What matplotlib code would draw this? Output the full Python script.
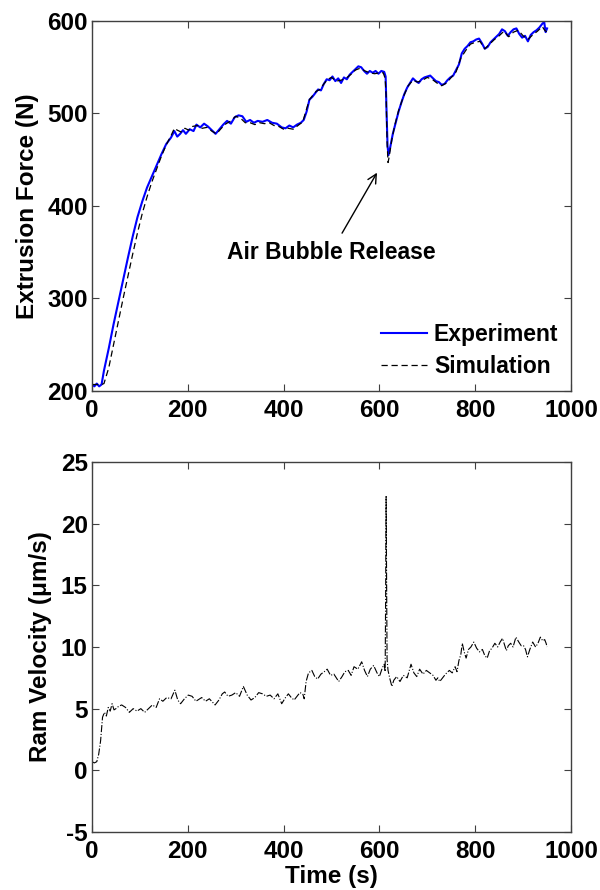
import numpy as np
import matplotlib
matplotlib.use("Agg")
import matplotlib.pyplot as plt

# =========================
# DATA
# =========================
exp_time = [
    0, 5, 10, 15, 20, 25, 35, 45, 55, 65,
    75, 85, 95, 105, 115, 125, 135, 145, 155, 165,
    172, 178, 184, 190, 196, 204, 212, 218, 226, 234,
    242, 250, 258, 266, 274, 282, 290, 298, 306, 314,
    322, 330, 338, 346, 356, 366, 376, 386, 396, 404,
    412, 420, 428, 436, 442, 448, 454, 460, 466, 472,
    478, 484, 490, 496, 502, 508, 514, 520, 526, 532,
    538, 544, 550, 556, 562, 568, 574, 580, 586, 592,
    598, 604, 610, 613, 615, 617, 619, 622, 628, 634,
    640, 646, 652, 658, 664, 670, 676, 682, 688, 694,
    700, 706, 712, 718, 724, 730, 736, 742, 748, 754,
    760, 766, 772, 778, 784, 790, 796, 802, 808, 814,
    820, 826, 832, 838, 844, 850, 856, 862, 868, 874,
    880, 886, 892, 898, 904, 910, 916, 922, 928, 934,
    940, 944, 947, 950,
]
exp_force = [
    207, 205, 208, 205, 207, 222, 246, 272, 296, 320,
    344, 367, 388, 405, 420, 432, 444, 456, 467, 474,
    481, 475, 478, 482, 478, 483, 481, 488, 485, 489,
    486, 482, 478, 483, 488, 492, 489, 496, 498, 497,
    491, 493, 490, 492, 491, 493, 490, 489, 485, 484,
    487, 485, 488, 490, 493, 502, 515, 518, 522, 526,
    525, 532, 537, 536, 540, 535, 538, 533, 539, 537,
    542, 545, 548, 551, 550, 546, 543, 546, 544, 546,
    543, 546, 545, 540, 500, 465, 455, 462, 478, 490,
    502, 512, 521, 528, 533, 538, 535, 533, 537, 539,
    540, 541, 538, 535, 534, 531, 532, 536, 539, 541,
    547, 553, 565, 570, 573, 577, 578, 580, 581, 576,
    570, 572, 577, 580, 583, 586, 591, 589, 584, 588,
    591, 592, 586, 582, 584, 578, 585, 588, 590, 593,
    597, 599, 588, 592,
]

sim_time = [
    0, 10, 20, 25, 35, 45, 55, 65, 75, 85,
    95, 105, 115, 125, 135, 145, 155, 165, 172, 178,
    186, 194, 202, 210, 220, 230, 240, 250, 260, 270,
    280, 290, 300, 310, 320, 330, 340, 350, 360, 370,
    380, 390, 400, 410, 420, 430, 440, 448, 454, 460,
    468, 476, 484, 492, 500, 510, 520, 530, 540, 550,
    560, 570, 580, 590, 600, 608, 612, 614, 616, 618,
    620, 626, 632, 640, 650, 660, 670, 680, 690, 700,
    710, 720, 730, 740, 750, 760, 770, 780, 790, 800,
    810, 820, 830, 840, 850, 860, 870, 880, 890, 900,
    910, 920, 930, 940, 945, 950,
]
sim_force = [
    207, 207, 207, 208, 225, 250, 275, 300, 324, 348,
    371, 392, 410, 426, 440, 454, 466, 476, 484, 482,
    480, 484, 482, 486, 487, 484, 485, 481, 478, 484,
    489, 492, 497, 495, 490, 490, 488, 490, 489, 490,
    487, 486, 483, 484, 483, 487, 491, 505, 515, 519,
    524, 526, 532, 537, 539, 535, 536, 538, 542, 547,
    549, 546, 544, 543, 544, 544, 538, 520, 470, 447,
    452, 472, 487, 503, 518, 530, 536, 534, 536, 539,
    537, 533, 530, 533, 539, 545, 560, 568, 575, 577,
    578, 570, 575, 580, 584, 589, 583, 588, 590, 584,
    580, 585, 589, 594, 590, 588,
]

vel_time = [
    0, 5, 10, 14, 18, 22, 26, 30, 34, 38,
    42, 46, 50, 56, 62, 70, 78, 86, 94, 102,
    110, 118, 126, 134, 141, 148, 156, 165, 173, 179,
    185, 193, 201, 209, 217, 229, 237, 245, 257, 265,
    272, 277, 284, 292, 300, 308, 316, 324, 332, 340,
    348, 356, 364, 372, 380, 388, 396, 404, 410, 416,
    422, 428, 434, 440, 443, 447, 452, 459, 465, 471,
    478, 485, 491, 498, 505, 515, 522, 528, 535, 541,
    547, 555, 563, 569, 575, 581, 588, 595, 600, 606,
    610, 612, 613, 614, 615, 616, 618, 622, 626, 630,
    636, 643, 650, 658, 666, 672, 678, 684, 691, 698,
    705, 712, 718, 722, 726, 730, 738, 746, 752, 758,
    762, 766, 770, 773, 777, 781, 786, 791, 797, 803,
    809, 815, 820, 825, 830, 835, 841, 847, 852, 857,
    861, 865, 869, 874, 879, 885, 891, 896, 901, 905,
    909, 914, 920, 926, 931, 936, 941, 945, 948, 950,
]
vel_value = [
    0.7, 0.6, 0.7, 1.3, 2.4, 4.3, 4.7, 4.4, 5.1, 4.8,
    5.4, 4.9, 5.0, 5.2, 5.3, 5.1, 4.7, 5.0, 4.8, 5.0,
    4.7, 5.0, 5.3, 5.1, 5.8, 5.6, 5.9, 5.8, 6.5, 5.7,
    5.4, 5.8, 6.1, 6.0, 5.6, 5.9, 5.6, 5.8, 5.3, 5.7,
    6.2, 6.35, 6.0, 6.1, 6.3, 6.0, 6.8, 6.1, 5.7, 5.9,
    6.3, 6.2, 6.0, 6.1, 5.8, 6.2, 5.4, 5.9, 6.2, 5.9,
    5.7, 6.0, 6.3, 6.2, 5.8, 7.2, 7.9, 8.1, 7.6, 7.4,
    7.8, 8.0, 8.2, 7.7, 7.8, 7.2, 7.6, 8.0, 8.1, 7.7,
    8.4, 8.2, 8.8, 8.1, 7.6, 8.2, 8.5, 7.9, 7.6, 8.3,
    8.6, 8.0, 14.0, 22.2, 15.0, 9.0, 8.1, 7.4, 6.8, 7.3,
    7.6, 7.2, 7.7, 7.5, 8.6, 7.9, 7.6, 8.2, 7.8, 8.1,
    7.9, 7.7, 7.3, 7.5, 7.2, 7.4, 7.8, 8.1, 7.9, 8.4,
    8.0, 8.9, 9.4, 10.3, 9.6, 9.1, 9.8, 10.0, 10.4, 9.9,
    9.6, 9.8, 9.3, 9.1, 9.7, 9.9, 10.3, 10.0, 10.4, 10.7,
    10.2, 9.7, 10.1, 10.3, 10.0, 10.8, 10.4, 10.1, 10.1, 9.8,
    9.2, 9.8, 10.4, 10.0, 10.3, 10.8, 10.5, 10.6, 10.3, 10.0,
]

force_ticks = [200, 300, 400, 500, 600]
vel_ticks = [-5, 0, 5, 10, 15, 20, 25]
time_ticks = [0, 200, 400, 600, 800, 1000]

# =========================
# STYLE
# =========================
plt.rcParams["font.family"] = ["Liberation Sans", "DejaVu Sans"]
plt.rcParams["font.weight"] = "bold"
plt.rcParams["axes.labelweight"] = "bold"
plt.rcParams["font.size"] = 17.5
plt.rcParams["axes.edgecolor"] = "#404040"
plt.rcParams["axes.unicode_minus"] = False


def style_axes(ax):
    ax.tick_params(direction="in", top=True, right=True, length=5,
                   width=0.8, color="#404040", labelsize=17.5)
    ax.tick_params(axis="x", pad=6)
    ax.tick_params(axis="y", pad=3)
    for sp in ax.spines.values():
        sp.set_linewidth(1.0)


fig = plt.figure(figsize=(6, 8.9), dpi=100)
ax1 = fig.add_axes([0.1533, 0.5607, 0.7984, 0.4157])
ax2 = fig.add_axes([0.1533, 0.0652, 0.7984, 0.4157])

# ---- Extrusion force ----
ax1.plot(exp_time, exp_force, color="#0000ff", lw=1.5, label="Experiment")
ax1.plot(sim_time, sim_force, color="black", lw=0.9, ls=(0, (5, 3)),
         label="Simulation")
ax1.set_xlim(0, 1000)
ax1.set_ylim(200, 600)
ax1.set_xticks(time_ticks)
ax1.set_yticks(force_ticks)
ax1.set_ylabel("Extrusion Force (N)", labelpad=6)
style_axes(ax1)

ax1.annotate("Air Bubble Release", xy=(595, 436), xytext=(499, 350),
             ha="center", va="center", fontsize=16.5, fontweight="bold",
             arrowprops=dict(arrowstyle="->", color="black", lw=1.0,
                             shrinkA=4, shrinkB=0, mutation_scale=16))

leg = ax1.legend(loc="lower right", frameon=False, handlelength=2.0,
                 handletextpad=0.3, borderaxespad=0.15, labelspacing=0.4,
                 fontsize=16.5)

# ---- Ram velocity ----
ax2.plot(vel_time, vel_value, color="black", lw=0.8, ls="-.")
ax2.set_xlim(0, 1000)
ax2.set_ylim(-5, 25)
ax2.set_xticks(time_ticks)
ax2.set_yticks(vel_ticks)
ax2.set_xlabel("Time (s)", labelpad=1)
ax2.set_ylabel("Ram Velocity (\u03bcm/s)", labelpad=6)
style_axes(ax2)

fig.savefig("out.png", dpi=100)
